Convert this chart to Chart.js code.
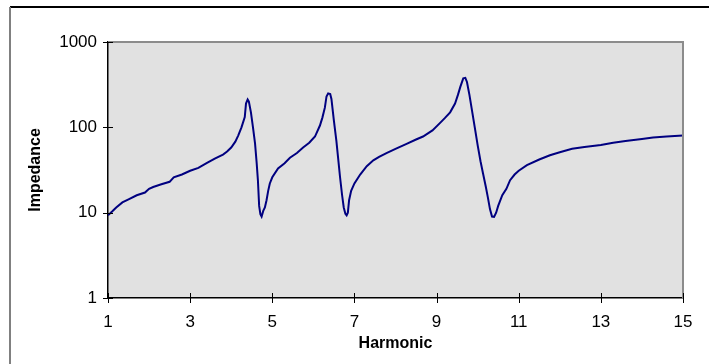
<!DOCTYPE html>
<html>
<head>
<meta charset="utf-8">
<script src="https://cdn.jsdelivr.net/npm/chart.js@4/dist/chart.umd.min.js"></script>
<style>
  html, body { margin: 0; padding: 0; background: #fff; }
  #wrap { width: 709px; height: 364px; }
</style>
</head>
<body>
<div id="wrap"><canvas id="chart"></canvas></div>
<script>
// impedance scan vs harmonic order (log scale)
const harmonic = [
  1.0, 1.1, 1.2, 1.35, 1.5, 1.7, 1.9, 2.0, 2.1, 2.3, 2.5, 2.6, 2.8, 3.0, 3.2, 3.4, 3.6, 3.8, 3.9, 4.0,
  4.1, 4.17, 4.25, 4.33, 4.36, 4.4, 4.43, 4.48, 4.53, 4.58, 4.62, 4.65, 4.68, 4.71, 4.74, 4.78, 4.82, 4.86, 4.9, 4.94,
  5.0, 5.14, 5.3, 5.43, 5.6, 5.75, 5.9, 6.04, 6.16, 6.22, 6.28, 6.32, 6.36, 6.41, 6.44, 6.5, 6.56, 6.6, 6.65, 6.7,
  6.74, 6.78, 6.81, 6.84, 6.87, 6.92, 7.0, 7.14, 7.3, 7.46, 7.6, 7.78, 8.0, 8.27, 8.5, 8.67, 8.9, 9.08, 9.2, 9.33,
  9.45, 9.52, 9.58, 9.65, 9.7, 9.74, 9.8, 9.87, 9.93, 10.0, 10.07, 10.13, 10.2, 10.25, 10.3, 10.35, 10.4, 10.45, 10.5, 10.6,
  10.7, 10.79, 10.9, 11.0, 11.2, 11.5, 11.76, 12.0, 12.3, 12.6, 13.0, 13.3, 13.6, 14.0, 14.27, 14.6, 15.0
];
const impedance = [
  9.3, 10.3, 11.5, 13.2, 14.3, 16, 17.2, 19, 20, 21.5, 23, 26, 28, 31, 33.5, 38, 43, 48, 52, 58,
  68, 80, 100, 132, 190, 212, 200, 150, 100, 65, 38, 24, 12, 9.6, 9.0, 10.5, 11.5, 14, 18, 22,
  26, 33, 38, 44, 50, 58, 66, 78, 105, 130, 170, 230, 250, 245, 215, 120, 70, 45, 26, 16,
  11.5, 9.7, 9.3, 10, 14, 18, 22, 28, 35, 41, 45, 50, 56, 64, 72, 78, 92, 112, 128, 150,
  190, 240, 300, 375, 380, 340, 240, 150, 100, 62, 40, 29, 20, 15, 11, 9, 8.9, 10, 12, 16,
  19, 24, 28, 31, 36, 42, 47, 51, 56, 59, 62, 66, 69, 73, 76, 78, 80
];
const xTicks = [1, 3, 5, 7, 9, 11, 13, 15];
const yTicks = [1, 10, 100, 1000];

const FONT = 'Arial, "Liberation Sans", sans-serif';

// plot background, outer frame, grey top/right border and crossing tick marks
const excelLook = {
  id: 'excelLook',
  beforeDraw(chart) {
    const { ctx, chartArea: a } = chart;
    ctx.save();
    ctx.fillStyle = '#fff';
    ctx.fillRect(0, 0, chart.width, chart.height);
    // outer chart frame
    ctx.strokeStyle = '#000';
    ctx.lineWidth = 2;
    ctx.beginPath();
    ctx.moveTo(10, 7); ctx.lineTo(chart.width, 7);
    ctx.stroke();
    ctx.strokeStyle = '#808080';
    ctx.beginPath();
    ctx.moveTo(10, 7); ctx.lineTo(10, chart.height);
    ctx.stroke();
    ctx.fillStyle = '#e1e1e1';
    ctx.fillRect(a.left, a.top, a.right - a.left, a.bottom - a.top);
    ctx.restore();
  },
  afterDraw(chart) {
    const { ctx, chartArea: a, scales } = chart;
    ctx.save();
    ctx.strokeStyle = '#8c8c8c';
    ctx.lineWidth = 2;
    ctx.beginPath();
    ctx.moveTo(a.left, a.top); ctx.lineTo(a.right, a.top); ctx.lineTo(a.right, a.bottom);
    ctx.stroke();
    ctx.strokeStyle = '#000';
    ctx.lineWidth = 1;
    ctx.beginPath();
    xTicks.forEach(v => {
      const px = Math.round(scales.x.getPixelForValue(v)) + 0.5;
      ctx.moveTo(px, a.bottom - 5); ctx.lineTo(px, a.bottom + 5);
    });
    yTicks.forEach(v => {
      const py = Math.round(scales.y.getPixelForValue(v)) + 0.5;
      ctx.moveTo(a.left - 5, py); ctx.lineTo(a.left + 5, py);
    });
    ctx.stroke();
    ctx.restore();
  }
};

new Chart(document.getElementById('chart'), {
  type: 'scatter',
  data: {
    datasets: [{
      label: 'Impedance',
      data: harmonic.map((h, i) => ({ x: h, y: impedance[i] })),
      showLine: true,
      borderColor: '#000080',
      borderWidth: 2,
      pointRadius: 0,
      tension: 0,
      fill: false
    }]
  },
  options: {
    responsive: true,
    maintainAspectRatio: false,
    animation: false,
    devicePixelRatio: 1,
    layout: { padding: { top: 42, right: 26, left: 0, bottom: 0 } },
    plugins: {
      legend: { display: false },
      tooltip: { enabled: false }
    },
    scales: {
      x: {
        type: 'linear',
        min: 1,
        max: 15,
        afterBuildTicks: s => { s.ticks = xTicks.map(v => ({ value: v })); },
        afterFit: s => { s.height = 66; },
        grid: { drawOnChartArea: false, drawTicks: false },
        border: { color: '#000', width: 1.5 },
        ticks: {
          padding: 14,
          color: '#000',
          font: { family: FONT, size: 17 },
          maxRotation: 0,
          callback: v => String(v)
        },
        title: {
          display: true,
          text: 'Harmonic',
          color: '#000',
          font: { family: FONT, size: 16, weight: 'bold' },
          padding: { top: 0, bottom: 11 }
        }
      },
      y: {
        type: 'logarithmic',
        min: 1,
        max: 1000,
        afterBuildTicks: s => { s.ticks = yTicks.map(v => ({ value: v })); },
        afterFit: s => { s.width = 108; },
        grid: { drawOnChartArea: false, drawTicks: false },
        border: { color: '#000', width: 1.5 },
        ticks: {
          padding: 11,
          color: '#000',
          font: { family: FONT, size: 17 },
          callback: v => String(v)
        },
        title: {
          display: true,
          text: 'Impedance',
          color: '#000',
          font: { family: FONT, size: 16, weight: 'bold' },
          padding: { top: 26, bottom: 0 }
        }
      }
    }
  },
  plugins: [excelLook]
});
</script>
</body>
</html>
